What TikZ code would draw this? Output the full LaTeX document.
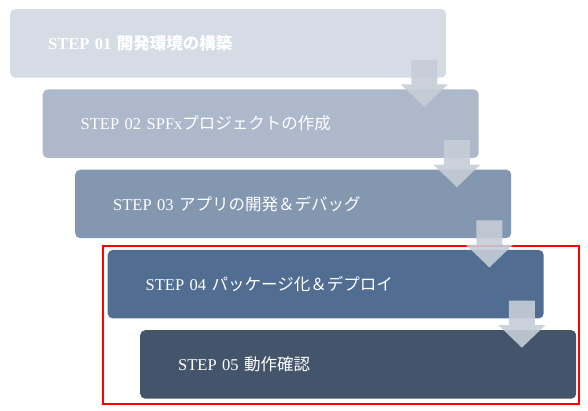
\documentclass[tikz,border=0pt]{standalone}
\usepackage{fontspec}
\setmainfont{Liberation Serif}
\newfontfamily\jpfont{Noto Sans CJK JP}
\begin{document}
\begin{tikzpicture}[x=1pt,y=1pt]
  \definecolor{stepa}{HTML}{D6DCE5}
  \definecolor{stepb}{HTML}{ADB9CA}
  \definecolor{stepc}{HTML}{8497B0}
  \definecolor{stepd}{HTML}{516E92}
  \definecolor{stepe}{HTML}{44546A}
  \definecolor{arrowc}{HTML}{C6CDD7}
  \definecolor{focusred}{HTML}{FF0000}
  \tikzset{stepbox/.style={rounded corners=5pt,text width=360pt,inner xsep=38pt,minimum height=68.5pt,
      align=left,anchor=north west,text=white,font=\fontsize{16.5}{19}\selectfont},
    steparrow/.style={fill=arrowc,fill opacity=0.9}}
  \useasboundingbox (0,0) rectangle (588,411);
  \node [stepbox,fill=stepa] (s1) at (10,402) {\bfseries STEP 01 {\jpfont 開発環境の構築}};
  \node [stepbox,fill=stepb] (s2) at (42.5,321.75) {STEP 02 SPFx{\jpfont プロジェクトの作成}};
  \node [stepbox,fill=stepc] (s3) at (75,241.5) {STEP 03 {\jpfont アプリの開発＆デバッグ}};
  \node [stepbox,fill=stepd] (s4) at (107.5,161.25) {STEP 04 {\jpfont パッケージ化＆デプロイ}};
  \node [stepbox,fill=stepe] (s5) at (140,81) {STEP 05 {\jpfont 動作確認}};
  \draw [focusred,line width=2.6pt] (103,7) rectangle (579,165);
  \fill [steparrow,shift={(s1.south east)}] (-35,18) -- (-9,18) -- (-9,-6.5) -- (1.5,-6.5) -- (-22,-29) -- (-45.5,-6.5) -- (-35,-6.5) -- cycle;
  \fill [steparrow,shift={(s2.south east)}] (-35,18) -- (-9,18) -- (-9,-6.5) -- (1.5,-6.5) -- (-22,-29) -- (-45.5,-6.5) -- (-35,-6.5) -- cycle;
  \fill [steparrow,shift={(s3.south east)}] (-35,18) -- (-9,18) -- (-9,-6.5) -- (1.5,-6.5) -- (-22,-29) -- (-45.5,-6.5) -- (-35,-6.5) -- cycle;
  \fill [steparrow,shift={(s4.south east)}] (-35,18) -- (-9,18) -- (-9,-6.5) -- (1.5,-6.5) -- (-22,-29) -- (-45.5,-6.5) -- (-35,-6.5) -- cycle;
\end{tikzpicture}
\end{document}
